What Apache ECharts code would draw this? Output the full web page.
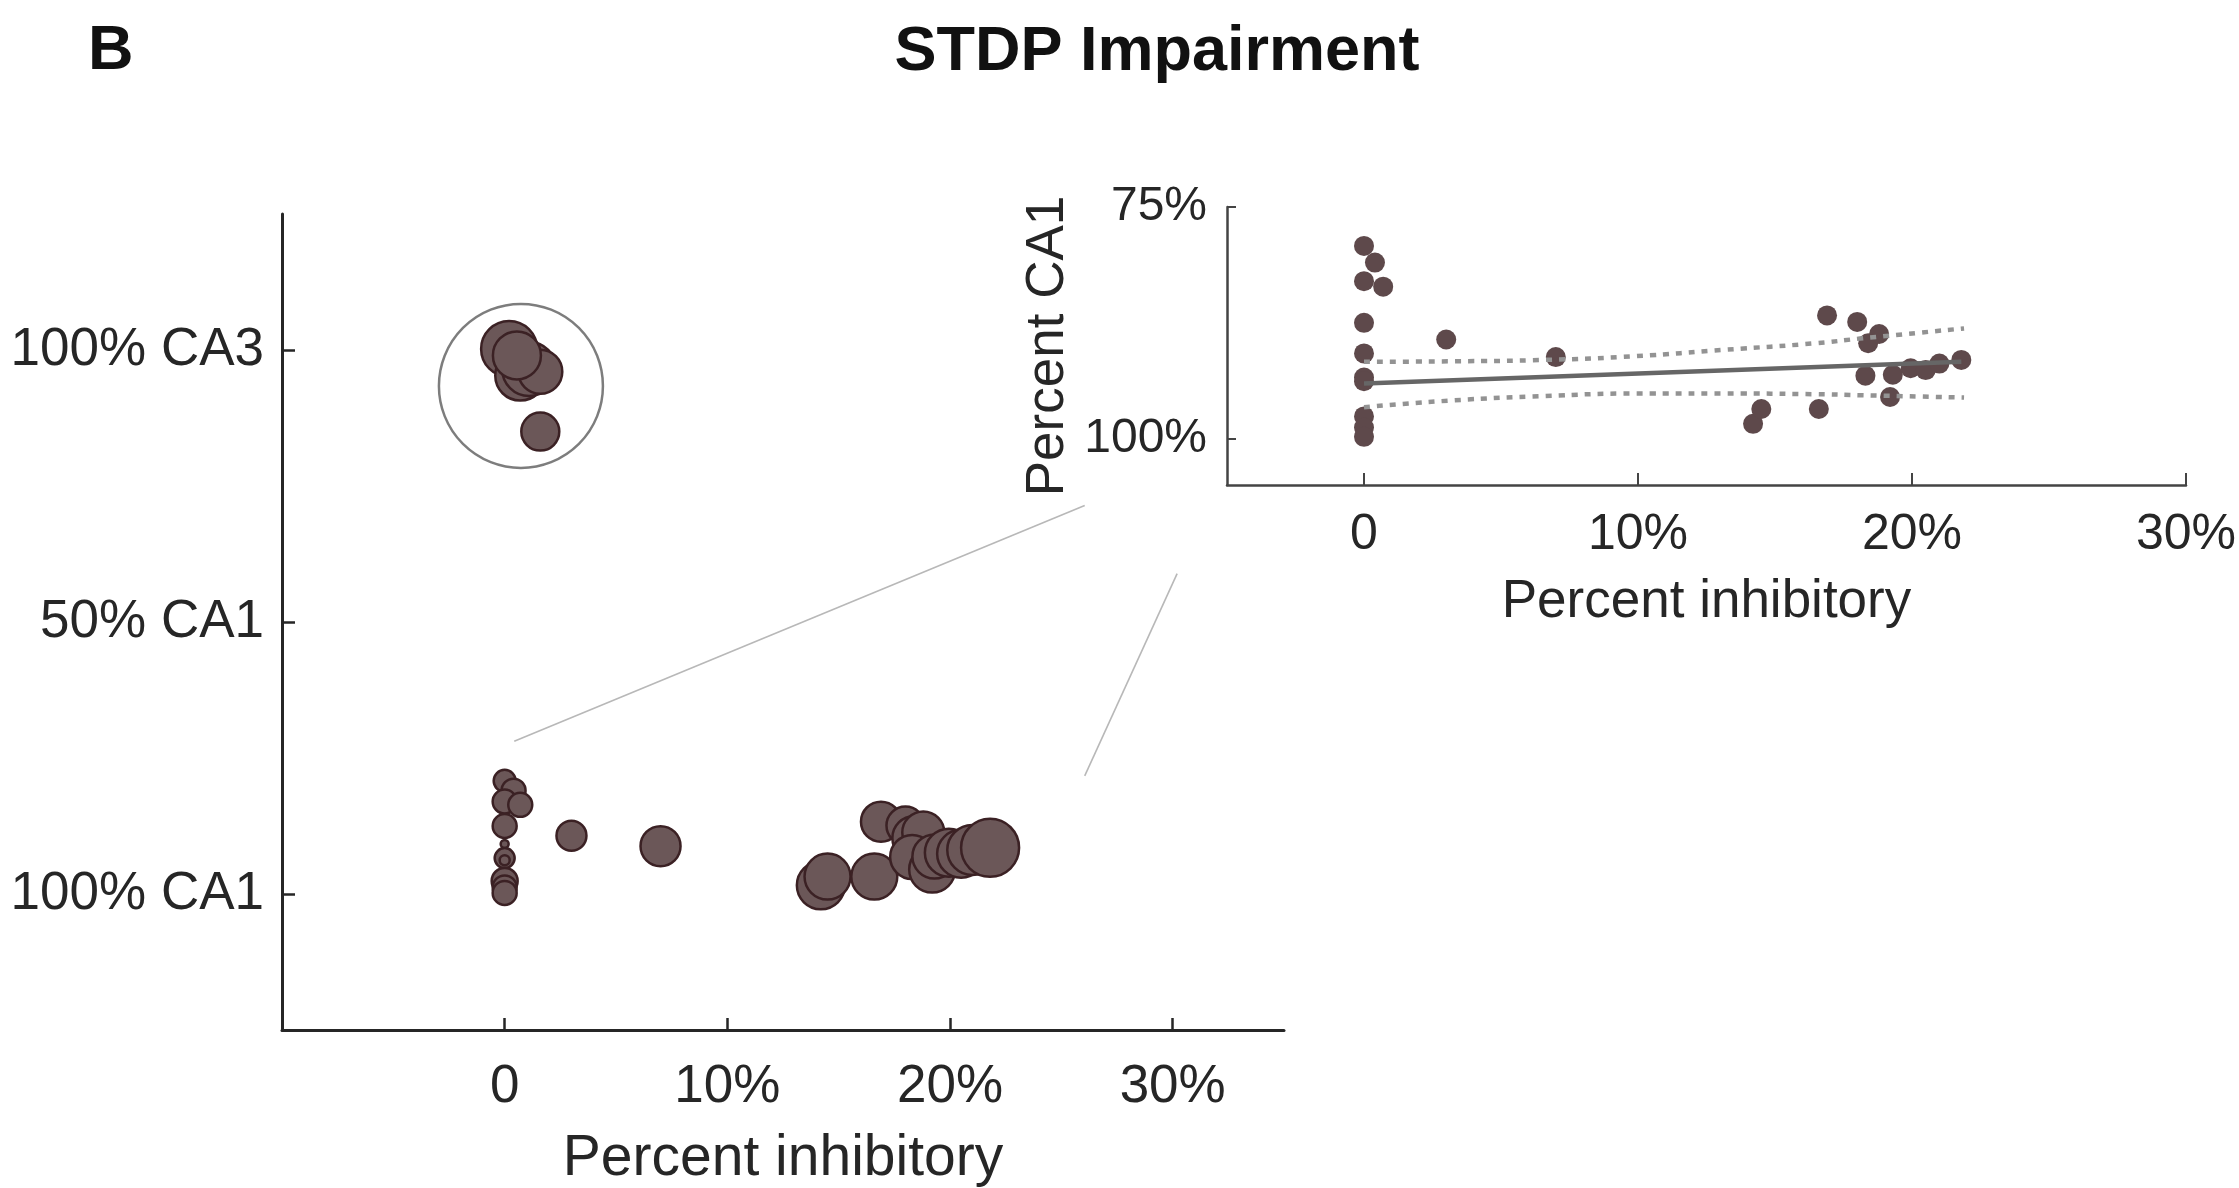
<!DOCTYPE html>
<html>
<head>
<meta charset="utf-8">
<script src="https://cdn.jsdelivr.net/npm/echarts@6/dist/echarts.min.js"></script>
<style>
  html, body { margin: 0; padding: 0; background: #ffffff; }
  #chart { width: 2239px; height: 1188px; }
</style>
</head>
<body>
<div id="chart"></div>
<script>
const FONT = "'Liberation Sans', Arial, Helvetica, sans-serif";
const INK = '#262626';

// Networks dominated by CA3: [percent inhibitory, fraction CA3]
const ca3Points = [
  [0.2, 1.002], [0.7, 0.953], [1.1, 0.965], [1.6, 0.960], [0.55, 0.990], [1.6, 0.850]
];
const ca3Weights = [28, 25, 27, 22, 24, 19];

// Networks dominated by CA1: [percent inhibitory, fraction CA3]
const ca1Points = [
  [0, 0.208], [0.4, 0.190], [0, 0.170], [0.7, 0.164], [0, 0.125], [0, 0.092],
  [0, 0.066], [0, 0.062], [0, 0.024], [0, 0.012], [0, 0.002],
  [3.0, 0.107], [7.0, 0.088],
  [14.2, 0.016], [14.5, 0.032], [16.6, 0.032], [16.9, 0.133], [18.0, 0.126],
  [18.4, 0.103], [18.8, 0.113], [18.3, 0.068], [19.2, 0.045], [19.3, 0.069],
  [19.95, 0.076], [20.5, 0.074], [21.0, 0.081], [21.8, 0.085]
];
const ca1Weights = [
  11, 12, 12, 12, 12, 4,
  10, 5, 13, 12, 12,
  15, 20,
  24, 23, 23, 20, 19,
  22, 21, 22, 23, 22,
  24, 24, 25, 29
];

// Linear fit and its confidence band (inset)
const fitLine = [[0, 0.0595], [21.8, 0.0829]];
const bandX = [0, 3.3, 6.6, 9.9, 13.2, 16.5, 18.1, 21.9];
const bandUpper = [0.083, 0.0835, 0.085, 0.089, 0.096, 0.103, 0.108, 0.119];
const bandLower = [0.034, 0.0414, 0.046, 0.0487, 0.0487, 0.048, 0.0469, 0.0444];

// Axis ticks
const xTicks = [0, 10, 20, 30];
const mainYTicks = [0, 0.5, 1];
const mainYLabels = ['100% CA1', '50% CA1', '100% CA3'];
const insetYTicks = [0, 0.25];
const insetYLabels = ['100%', '75%'];

// Ring around the CA3 group and the guides pointing to the inset
const ca3Ring = [[0.73, 0.934]];
const zoomGuides = [
  [[0.43, 0.281], [26.05, 0.714]],
  [[26.05, 0.217], [30.2, 0.589]]
];

const pctLabel = v => (v === 0 ? '0' : v + '%');
const pick = (ticks, labels) => v => {
  const i = ticks.findIndex(t => Math.abs(t - v) < 1e-9);
  return i < 0 ? '' : labels[i];
};

const bubbleFill = '#6b5758';
const bubbleEdge = '#3b2124';

const chart = echarts.init(document.getElementById('chart'), null, { renderer: 'canvas' });

chart.setOption({
  animation: false,
  backgroundColor: '#ffffff',
  textStyle: { fontFamily: FONT, color: INK },
  graphic: [
    { type: 'text', x: 88, y: 52,
      style: { text: 'B', font: 'bold 63px ' + FONT, fill: '#111', textVerticalAlign: 'middle' } },
    { type: 'text', x: 1157, y: 53,
      style: { text: 'STDP Impairment', font: 'bold 63px ' + FONT, fill: '#111',
               textAlign: 'center', textVerticalAlign: 'middle' } }
  ],
  grid: [
    { left: 282, right: 955, top: 214, bottom: 158, outerBoundsMode: 'none', containLabel: false },
    { left: 1227, right: 53, top: 207, bottom: 703, outerBoundsMode: 'none', containLabel: false }
  ],
  xAxis: [
    {
      type: 'value', gridIndex: 0, min: -10, max: 35,
      splitLine: { show: false },
      axisLine: { show: true, onZero: false, lineStyle: { color: INK, width: 3 } },
      axisTick: { show: true, inside: true, length: 12, customValues: xTicks,
                  lineStyle: { color: INK, width: 2.5 } },
      axisLabel: { customValues: xTicks, formatter: pctLabel, margin: 31,
                   fontSize: 53, color: INK, fontFamily: FONT },
      name: 'Percent inhibitory', nameLocation: 'middle', nameGap: 101,
      nameTextStyle: { fontSize: 57, color: INK, fontFamily: FONT }
    },
    {
      type: 'value', gridIndex: 1, min: -5, max: 30,
      splitLine: { show: false },
      axisLine: { show: true, onZero: false, lineStyle: { color: '#444', width: 2.5 } },
      axisTick: { show: true, inside: true, length: 12, customValues: xTicks,
                  lineStyle: { color: '#444', width: 2 } },
      axisLabel: { customValues: xTicks, formatter: pctLabel, margin: 25,
                   fontSize: 50, color: INK, fontFamily: FONT },
      name: 'Percent inhibitory', nameLocation: 'middle', nameGap: 91,
      nameTextStyle: { fontSize: 53, color: INK, fontFamily: FONT }
    }
  ],
  yAxis: [
    {
      type: 'value', gridIndex: 0, min: -0.25, max: 1.25,
      splitLine: { show: false },
      axisLine: { show: true, onZero: false, lineStyle: { color: INK, width: 3 } },
      axisTick: { show: true, inside: true, length: 13, customValues: mainYTicks,
                  lineStyle: { color: INK, width: 2.5 } },
      axisLabel: { customValues: mainYTicks, formatter: pick(mainYTicks, mainYLabels),
                   margin: 18, fontSize: 53, color: INK, fontFamily: FONT }
    },
    {
      type: 'value', gridIndex: 1, min: -0.05, max: 0.25,
      splitLine: { show: false },
      axisLine: { show: true, onZero: false, lineStyle: { color: '#444', width: 2.5 } },
      axisTick: { show: true, inside: true, length: 9, customValues: insetYTicks,
                  lineStyle: { color: '#444', width: 2 } },
      axisLabel: { customValues: insetYTicks, formatter: pick(insetYTicks, insetYLabels),
                   margin: 20, fontSize: 48, color: INK, fontFamily: FONT },
      name: 'Percent CA1', nameLocation: 'middle', nameGap: 152, nameRotate: 90,
      nameTextStyle: { fontSize: 53, color: INK, fontFamily: FONT }
    }
  ],
  series: [
    {
      type: 'lines', coordinateSystem: 'cartesian2d', xAxisIndex: 0, yAxisIndex: 0,
      silent: true, z: 1,
      lineStyle: { color: '#b8b8b8', width: 1.6, opacity: 1, curveness: 0 },
      data: zoomGuides.map(c => ({ coords: c }))
    },
    {
      type: 'scatter', xAxisIndex: 0, yAxisIndex: 0, z: 2, silent: true,
      symbol: 'circle', symbolSize: 164,
      itemStyle: { color: 'rgba(0,0,0,0)', borderColor: '#5c5c5c', borderWidth: 2.5 },
      data: ca3Ring
    },
    {
      type: 'scatter', xAxisIndex: 0, yAxisIndex: 0, z: 3,
      symbol: 'circle',
      symbolSize: (v, p) => 2 * ca3Weights[p.dataIndex],
      itemStyle: { color: bubbleFill, borderColor: bubbleEdge, borderWidth: 2.5, opacity: 1 },
      data: ca3Points
    },
    {
      type: 'scatter', xAxisIndex: 0, yAxisIndex: 0, z: 3,
      symbol: 'circle',
      symbolSize: (v, p) => 2 * ca1Weights[p.dataIndex],
      itemStyle: { color: bubbleFill, borderColor: bubbleEdge, borderWidth: 2.5, opacity: 1 },
      data: ca1Points
    },
    {
      type: 'scatter', xAxisIndex: 1, yAxisIndex: 1, z: 3,
      symbol: 'circle', symbolSize: 20,
      itemStyle: { color: '#5e494b', opacity: 1 },
      data: ca1Points
    },
    {
      type: 'line', xAxisIndex: 1, yAxisIndex: 1, z: 4, silent: true,
      showSymbol: false, smooth: true,
      lineStyle: { color: '#939393', width: 4.5, type: [6, 7], cap: 'butt' },
      data: bandX.map((x, i) => [x, bandUpper[i]])
    },
    {
      type: 'line', xAxisIndex: 1, yAxisIndex: 1, z: 4, silent: true,
      showSymbol: false, smooth: true,
      lineStyle: { color: '#939393', width: 4.5, type: [6, 7], cap: 'butt' },
      data: bandX.map((x, i) => [x, bandLower[i]])
    },
    {
      type: 'line', xAxisIndex: 1, yAxisIndex: 1, z: 5, silent: true,
      showSymbol: false,
      lineStyle: { color: '#666666', width: 4.5 },
      data: fitLine
    }
  ]
});
</script>
</body>
</html>
